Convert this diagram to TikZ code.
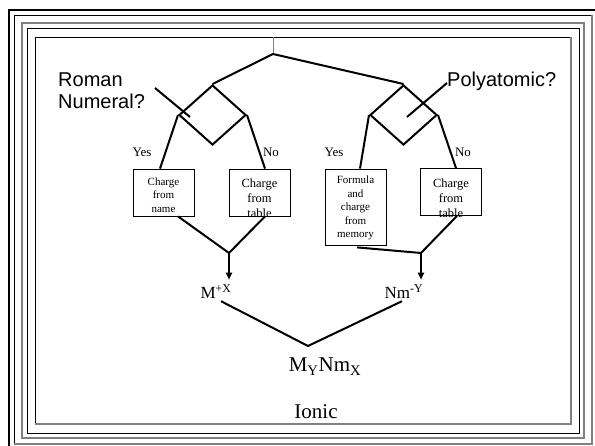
\documentclass[tikz,border=0pt]{standalone}
\usepackage{fontspec}
\setmainfont{Liberation Serif}
\newfontfamily\arialfont{Liberation Sans}
\usetikzlibrary{shapes.geometric,arrows.meta}

\begin{document}
\begin{tikzpicture}[x=1pt,y=-1pt,
  link/.style={line width=2pt, black, line join=miter},
  stub/.style={line width=1pt, gray},
  decision/.style={diamond, draw, line width=2pt, minimum width=67pt, minimum height=60pt, inner sep=0pt},
  chargebox/.style={draw, line width=0.8pt, minimum width=61pt, minimum height=47pt, inner sep=0pt},
  boxtext/.style={align=center, inner sep=0pt},
  answer/.style={inner sep=0pt, font=\fontsize{13}{15}\selectfont},
  question/.style={inner sep=0pt, align=left, font=\arialfont\fontsize{20}{22}\selectfont},
  ion/.style={inner sep=0pt, font=\fontsize{17}{20}\selectfont},
  result/.style={inner sep=0pt, font=\fontsize{21}{24}\selectfont},
  pointer/.style={-{Triangle[width=6pt,length=7pt]}},
  darkrule/.style={black, line width=0.9pt},
  lightrule/.style={gray, line width=1.2pt}
]
\useasboundingbox (0,0) rectangle (595,446);

% nested frame: dark on top and left, light on bottom and right
\draw[black, line width=2.2pt] (9,446) -- (9,10) -- (595,10);
\draw[darkrule] (14,444) -- (14,15) -- (592,15);
\draw[lightrule] (14,444) -- (592,444) -- (592,15);
\draw[lightrule] (22,438) -- (22,23) -- (584,23) -- (584,438) -- cycle;
\draw[darkrule] (27,433) -- (27,28) -- (579,28) -- (579,433) -- cycle;
\draw[darkrule] (35,424) -- (35,37) -- (571,37);
\draw[lightrule] (35,424) -- (571,424) -- (571,37);

% decisions
\node[decision] (d1) at (212.5,115) {};
\node[decision] (d2) at (403.5,115) {};
\coordinate (top) at (273,37);
\coordinate (split) at (273,54);
\draw[stub] (top) -- (split);
\draw[link] (d1.north) -- (split) -- (d2.north);

% questions with their pointers
\node[question, anchor=north west] (q1) at (58,73) {Roman\\Numeral?};
\node[question, anchor=base west] (q2) at (447,87) {Polyatomic?};
\coordinate (p1a) at (155,88);
\coordinate (p1b) at (190,117);
\coordinate (p2a) at (447,83);
\coordinate (p2b) at (407,117);
\draw[link] (p1a) -- (p1b);
\draw[link] (p2a) -- (p2b);

% answers
\node[answer] (y1) at (142,152) {Yes};
\node[answer] (n1) at (271,152) {No};
\node[answer] (y2) at (334,152) {Yes};
\node[answer] (n2) at (463,152) {No};

% charge boxes
\node[chargebox] (b1) at (163.5,192.5) {};
\node[chargebox] (b2) at (259.5,192.5) {};
\node[chargebox, minimum height=76pt] (b3) at (355.5,207) {};
\node[chargebox] (b4) at (451,192) {};
\node[boxtext, font=\fontsize{11}{13.5}\selectfont] (t1) at (163.5,195) {Charge\\from\\name};
\node[boxtext, font=\fontsize{12.5}{15}\selectfont] (t2) at (259.5,198) {Charge\\from\\table};
\node[boxtext, font=\fontsize{11}{13.5}\selectfont] (t3) at (355.5,208) {Formula\\and\\charge\\from\\memory};
\node[boxtext, font=\fontsize{12.5}{15}\selectfont] (t4) at (451,198) {Charge\\from\\table};

\draw[link] (d1.west) -- ([xshift=-3.5pt]b1.north);
\draw[link] (d1.east) -- ([xshift=5.5pt]b2.north);
\draw[link] (d2.west) -- ([xshift=4.5pt]b3.north);
\draw[link] (d2.east) -- ([xshift=5pt]b4.north);

% merging into the ions
\coordinate (j1) at (229,253);
\coordinate (j2) at (421,253);
\draw[link] ([xshift=14.5pt]b1.south) -- (j1) -- ([xshift=5.5pt]b2.south);
\draw[link] ([xshift=1.5pt,yshift=-2pt]b3.south) -- (j2) -- ([xshift=6pt]b4.south);

\node[ion, anchor=base] (m) at (216,299) {M\textsuperscript{+X}};
\node[ion, anchor=base] (nm) at (404,299) {Nm\textsuperscript{-Y}};
\draw[link, pointer, shorten >=5pt] (j1) -- (j1 |- m.north);
\draw[link, pointer, shorten >=5pt] (j2) -- (j2 |- nm.north);

% the compound
\coordinate (v) at (308,346);
\draw[link] ([xshift=5pt,yshift=-2pt]m.south) -- (v) -- ([xshift=-2pt,yshift=-2pt]nm.south);
\node[result, anchor=base] (c) at (325,372) {M\textsubscript{Y}Nm\textsubscript{X}};
\node[result, anchor=base] (ionic) at (316,419) {Ionic};
\end{tikzpicture}
\end{document}
